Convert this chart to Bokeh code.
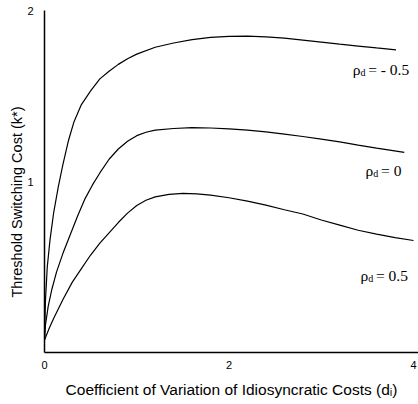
from bokeh.plotting import figure
from bokeh.models import FixedTicker, Range1d, Title
from bokeh.core.properties import value
from bokeh.embed import file_html
from bokeh.resources import INLINE

# Coefficient of variation of idiosyncratic costs (d_i) vs threshold switching cost (k*)
# rho_d = -0.5
d_neg = [0.00, 0.01, 0.03, 0.06, 0.10, 0.15, 0.20, 0.26, 0.32, 0.40, 0.50, 0.60, 0.70, 0.80, 0.90,
         1.00, 1.20, 1.40, 1.60, 1.80, 2.00, 2.20, 2.40, 2.60, 2.80, 3.00, 3.20, 3.40, 3.60, 3.81]
k_neg = [0.073, 0.30, 0.50, 0.66, 0.82, 0.97, 1.10, 1.24, 1.35, 1.45, 1.53, 1.60, 1.645, 1.685, 1.718,
         1.745, 1.785, 1.81, 1.83, 1.843, 1.849, 1.850, 1.846, 1.838, 1.827, 1.815, 1.803, 1.792, 1.781, 1.77]
# rho_d = 0
d_zero = [0.00, 0.01, 0.04, 0.08, 0.13, 0.20, 0.28, 0.36, 0.44, 0.52, 0.60, 0.70, 0.80, 0.90, 1.00,
          1.10, 1.20, 1.40, 1.60, 1.80, 2.00, 2.20, 2.40, 2.60, 2.80, 3.00, 3.20, 3.40, 3.60, 3.90]
k_zero = [0.073, 0.16, 0.27, 0.37, 0.47, 0.58, 0.69, 0.80, 0.90, 0.98, 1.05, 1.13, 1.19, 1.235, 1.268,
          1.288, 1.30, 1.31, 1.315, 1.313, 1.308, 1.30, 1.29, 1.277, 1.263, 1.248, 1.232, 1.213, 1.195, 1.17]
# rho_d = 0.5
d_pos = [0.00, 0.05, 0.10, 0.20, 0.30, 0.40, 0.50, 0.60, 0.70, 0.80, 0.90, 1.00, 1.10, 1.20, 1.35,
         1.50, 1.65, 1.80, 2.00, 2.20, 2.40, 2.60, 2.80, 3.00, 3.20, 3.40, 3.60, 3.80, 4.00]
k_pos = [0.073, 0.14, 0.20, 0.31, 0.41, 0.49, 0.57, 0.64, 0.70, 0.76, 0.815, 0.86, 0.89, 0.91, 0.925,
         0.93, 0.928, 0.92, 0.905, 0.885, 0.862, 0.835, 0.81, 0.775, 0.745, 0.715, 0.692, 0.672, 0.655]

series_labels = ["= - 0.5", "= 0", "= 0.5"]
x_ticks = [0, 2, 4]
y_ticks = [1, 2]
x_title = "Coefficient of Variation of Idiosyncratic Costs (d\u1d62)"
y_title = "Threshold Switching Cost (k*)"

# annotation placement
label_x = [3.34, 3.48, 3.425]
label_y = [1.653, 1.065, 0.453]

p = figure(width=418, height=404, output_backend="svg", toolbar_location=None,
           x_range=Range1d(0, 4.054), y_range=Range1d(0, 2),
           min_border_left=44, min_border_right=0, min_border_top=10, min_border_bottom=52)
p.grid.visible = False
p.outline_line_color = None
p.background_fill_color = "white"
p.border_fill_color = "white"

for ax in (p.xaxis, p.yaxis):
    ax.axis_line_color = "black"
    ax.axis_line_width = 1.5
    ax.major_tick_line_color = None
    ax.minor_tick_line_color = None
    ax.major_label_text_font = "Liberation Sans"
    ax.major_label_text_font_size = "11px"
    ax.major_label_text_color = "black"

p.xaxis.ticker = FixedTicker(ticks=x_ticks)
p.yaxis.ticker = FixedTicker(ticks=y_ticks)
p.xaxis.major_label_standoff = 2
p.yaxis.major_label_standoff = 5

p.xaxis.axis_label = x_title
p.xaxis.axis_label_standoff = 9
p.xaxis.axis_label_text_font = "Liberation Sans"
p.xaxis.axis_label_text_font_size = "15.5px"
p.xaxis.axis_label_text_font_style = "normal"
p.xaxis.axis_label_text_color = "black"

p.add_layout(Title(text=y_title, align="left", offset=55, standoff=0,
                   text_font="Liberation Sans", text_font_size="14.5px",
                   text_font_style="normal", text_color="black"), "left")

for dx, ky in ((d_neg, k_neg), (d_zero, k_zero), (d_pos, k_pos)):
    p.line(dx, ky, line_color="black", line_width=1.2)

serif = value("Liberation Serif")
p.text(x=label_x, y=label_y, text=["\u03c1"] * 3, text_font=serif, text_font_size="15.5px",
       text_baseline="middle", text_align="left", text_color="black")
p.text(x=label_x, y=label_y, text=["d"] * 3, text_font=serif, text_font_size="10px",
       text_baseline="middle", text_align="left", text_color="black", x_offset=7.8, y_offset=3)
p.text(x=label_x, y=label_y, text=series_labels, text_font=serif, text_font_size="15.5px",
       text_baseline="middle", text_align="left", text_color="black", x_offset=15.5)

open("out.html", "w").write(file_html(p, INLINE))
